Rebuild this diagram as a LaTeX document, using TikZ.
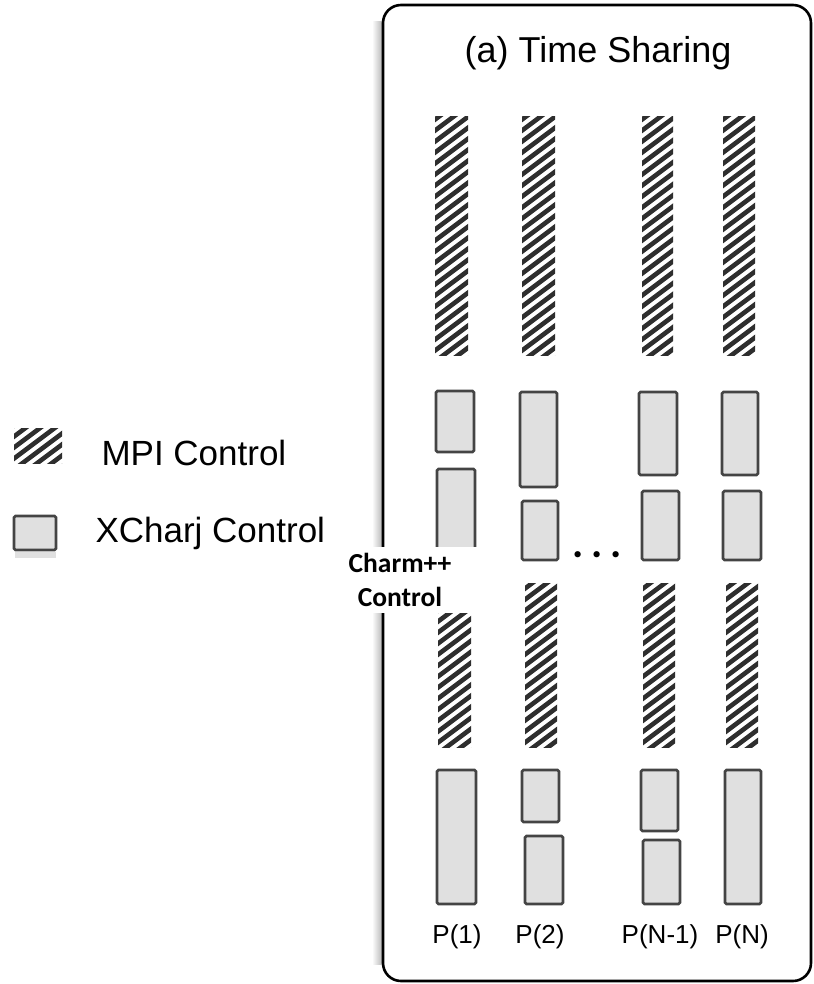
\documentclass[tikz,border=0pt]{standalone}
\usepackage{fontspec}
\setmainfont{Liberation Sans}
\newfontfamily\charmfont{Carlito}
\usetikzlibrary{calc}
\definecolor{HatchClr}{RGB}{46,46,46}
\definecolor{BoxClr}{RGB}{224,224,224}
\definecolor{LineClr}{RGB}{68,68,68}

\tikzset{
  mpibar/.style={path picture={
    \foreach \k in {-26,...,6}
      \draw[HatchClr,line width=4.6pt]
        ($(path picture bounding box.south west)+(-6,\k*11)$) -- ++(64,-48);
  }},
  xcharjbox/.style={fill=BoxClr,draw=LineClr,line width=2.6pt,rounded corners=1.5pt},
  plabel/.style={anchor=base,font=\fontsize{26}{30}\selectfont},
  legendtext/.style={anchor=base west,font=\fontsize{35}{40}\selectfont},
}

\begin{document}
\begin{tikzpicture}[x=1pt,y=-1pt]
\useasboundingbox (0,0) rectangle (813,984);

% frame with its shadow
\shade[left color=white,right color=black!30] (372,22) rectangle (383,964);
\draw[line width=2.6pt,rounded corners=18pt] (383,5) rectangle (811,981);
\node[anchor=base,font=\fontsize{36}{40}\selectfont] (title) at (598,63) {(a) Time Sharing};

% MPI phases
\path[mpibar] (435,117) rectangle (468,355);
\path[mpibar] (522,117) rectangle (555,355);
\path[mpibar] (642,117) rectangle (673,355);
\path[mpibar] (723,117) rectangle (755,355);

\path[mpibar] (438,590) rectangle (471,747);
\path[mpibar] (525,583) rectangle (557,747);
\path[mpibar] (643,583) rectangle (675,747);
\path[mpibar] (726,583) rectangle (758,747);

% XCharj phases
\draw[xcharjbox] (436,391) rectangle (474,452);
\draw[xcharjbox] (437,469) rectangle (475,600);
\draw[xcharjbox] (520,392) rectangle (557,487);
\draw[xcharjbox] (522,501) rectangle (558,560);
\draw[xcharjbox] (639,392) rectangle (677,475);
\draw[xcharjbox] (642,491) rectangle (679,560);
\draw[xcharjbox] (722,392) rectangle (758,475);
\draw[xcharjbox] (723,491) rectangle (761,560);

\draw[xcharjbox] (437,770) rectangle (476,904);
\draw[xcharjbox] (522,770) rectangle (559,822);
\draw[xcharjbox] (525,836) rectangle (563,904);
\draw[xcharjbox] (641,770) rectangle (678,831);
\draw[xcharjbox] (643,840) rectangle (680,904);
\draw[xcharjbox] (725,770) rectangle (761,904);

\node[anchor=base,font=\charmfont\bfseries\fontsize{42}{44}\selectfont] (dots) at (597,557) {.\hspace{8pt}.\hspace{8pt}.};

\node[fill=white,minimum width=160,minimum height=66,align=center,inner sep=0pt,
  font=\charmfont\bfseries\fontsize{27.5}{34}\selectfont] (charm) at (400,580) {Charm++\\Control};

% processors
\node[plabel] (p1) at (457,943) {P(1)};
\node[plabel] (p2) at (540,943) {P(2)};
\node[plabel] (pn1) at (660,943) {P(N-1)};
\node[plabel] (pn) at (742,943) {P(N)};

% legend
\path[mpibar] (14,428) rectangle (62,463);
\fill[black!12] (15,552) rectangle (56,558);
\draw[xcharjbox] (14,516) rectangle (56,550);
\node[legendtext] (mpi) at (98,465) {MPI Control};
\node[legendtext] (xcharj) at (92,542) {XCharj Control};
\end{tikzpicture}
\end{document}
